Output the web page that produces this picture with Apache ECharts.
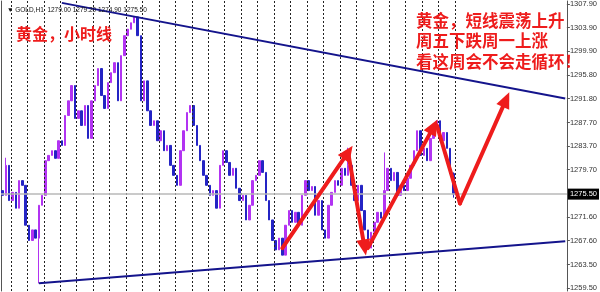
<!DOCTYPE html>
<html><head><meta charset="utf-8">
<script src="https://cdn.jsdelivr.net/npm/echarts@6.0.0/dist/echarts.min.js"></script>
<style>html,body{margin:0;padding:0;background:#fff}#c{width:600px;height:292px}</style>
</head><body><div id="c"></div>
<script>
// ---- data ----
const closes = [
 1275.3,1280.4,1274.4,1275.8,1273.1,1277.8,1277.0,1270.2,1267.6,1269.4,
 1268.0,1273.6,1275.3,1281.2,1282.1,1282.9,1281.6,1284.6,1283.8,1288.9,
 1291.4,1294.0,1288.4,1289.7,1287.2,1290.6,1285.0,1291.4,1294.0,1296.9,
 1292.3,1290.1,1294.5,1296.2,1297.9,1291.4,1299.1,1302.5,1303.6,1304.7,
 1305.7,1302.5,1291.4,1294.8,1289.7,1287.2,1288.0,1284.6,1286.3,1282.9,
 1283.8,1280.4,1278.7,1277.0,1282.9,1286.3,1289.4,1290.6,1287.2,1283.8,
 1281.2,1278.7,1277.0,1275.3,1276.1,1273.1,1280.4,1282.9,1280.9,1278.7,
 1279.9,1276.5,1274.4,1275.3,1271.1,1273.6,1277.8,1278.7,1281.2,1279.2,
 1274.4,1271.1,1267.6,1266.0,1268.0,1265.1,1270.2,1272.7,1270.7,1272.4,
 1270.2,1275.3,1277.8,1276.1,1276.8,1271.9,1274.4,1269.4,1268.0,1273.6,
 1275.8,1277.8,1277.0,1279.9,1278.7,1280.4,1277.0,1274.4,1277.0,1272.7,
 1269.4,1266.3,1269.0,1270.7,1272.4,1271.4,1276.1,1279.9,1277.8,1279.2,
 1275.3,1277.0,1276.1,1278.2,1280.4,1282.9,1286.3,1282.1,1283.3,1281.2,
 1285.0,1287.2,1288.0,1284.6,1286.0,1283.3,1279.0,1275.5
];
const firstOpen = 1276.1;
const wickHighs = {1: 1281.7, 105: 1283.4, 116: 1282.6, 137: 1279.2};
const wickLows = {11: 1260.3, 137: 1274.9};
const totalBars = 172;            // bars + empty shift area on the right
const yTickLabels = [1259.5,1263.5,1267.6,1271.6,1275.5,1279.7,1283.7,1287.7,1291.8,1295.8,1299.9,1303.9,1307.9];
const yMin = 1258.99, yMax = 1308.41;
const lastPrice = 1275.5;
const headerText = '\u25BC GOLD,H1  1279.00 1279.20 1274.90 1275.50';
const leftTitle = '黄金，小时线';
const rightTitle = '黄金，短线震荡上升\n周五下跌周一上涨\n看这周会不会走循环！';
// period separators: bar boundaries (first, step, last)
const sepFirst = 3, sepStep = 5, sepLast = 138;
// trendlines: [barIndex, price]
const upperTrend = [[18, 1308.09], [171, 1291.8]];
const lowerTrend = [[11, 1260.3], [171, 1267.46]];
// arrows: [fromIndex, fromPrice, toIndex, toPrice, hasHead]
const arrows = [
 [85, 1266.3, 105, 1282.6, true],
 [105, 1282.6, 110, 1266.4, true],
 [111, 1266.3, 131, 1287.0, true],
 [132, 1287.2, 139, 1273.9, false],
 [139, 1273.9, 153, 1291.6, true]
];

// ---- build ----
const categories = [];
for (let i = 0; i < totalBars; i++) categories.push('b' + i);
const boundaries = [];
for (let i = 0; i <= totalBars; i++) boundaries.push('e' + i);
const candles = closes.map((c, i) => {
  const o = i === 0 ? firstOpen : closes[i - 1];
  let lo = Math.min(o, c), hi = Math.max(o, c);
  if (wickLows[i] !== undefined) lo = Math.min(lo, wickLows[i]);
  if (wickHighs[i] !== undefined) hi = Math.max(hi, wickHighs[i]);
  return [o, c, lo, hi];
});

const red = '#ee1c1c';
const trendStyle = {color: '#14148c', width: 2, type: 'solid'};
const mlData = [
  {yAxis: lastPrice,
   lineStyle: {color: '#b8b8b8', width: 1.5, type: 'solid'},
   label: {show: true, position: 'end', distance: 1, formatter: lastPrice.toFixed(2),
           backgroundColor: '#000', color: '#fff', padding: [2, 2, 1, 2], fontSize: 7.5,
           fontFamily: 'Liberation Sans'}},
  [{coord: [categories[upperTrend[0][0]], upperTrend[0][1]], symbol: 'none', lineStyle: trendStyle},
   {coord: [categories[upperTrend[1][0]], upperTrend[1][1]], symbol: 'none'}],
  [{coord: [categories[lowerTrend[0][0]], lowerTrend[0][1]], symbol: 'none', lineStyle: trendStyle},
   {coord: [categories[lowerTrend[1][0]], lowerTrend[1][1]], symbol: 'none'}]
];
arrows.forEach(a => {
  mlData.push([
    {coord: [categories[a[0]], a[1]], symbol: 'none', lineStyle: {color: red, width: 4, type: 'solid', cap: 'round'}},
    {coord: [categories[a[2]], a[3]], symbol: a[4] ? 'triangle' : 'none', symbolSize: [14, 16], itemStyle: {color: red}}
  ]);
});
const sepData = [];
for (let k = sepFirst; k <= sepLast; k += sepStep) {
  sepData.push({xAxis: boundaries[k],
                lineStyle: {color: '#222', width: 1, type: [2, 2]}});
}

const chart = echarts.init(document.getElementById('c'), null, {renderer: 'canvas'});
chart.setOption({
  animation: false,
  backgroundColor: '#ffffff',
  title: [
    {text: headerText, left: 2, top: 2, textStyle: {fontSize: 6.5, fontWeight: 'normal', color: '#111', fontFamily: 'Liberation Sans'}},
    {text: leftTitle, left: 11, top: 21, textStyle: {fontSize: 16, fontWeight: 'bold', color: red, fontFamily: 'Noto Sans CJK SC'}},
    {text: rightTitle, left: 411, top: 5, textStyle: {fontSize: 16.5, fontWeight: 'bold', color: red, lineHeight: 20.5, fontFamily: 'Noto Sans CJK SC'}}
  ],
  grid: {left: 1, right: 29, top: 0, bottom: 1},
  xAxis: [{
    type: 'category', data: categories, boundaryGap: true,
    axisLabel: {show: false}, axisTick: {show: false}, axisLine: {show: false}, splitLine: {show: false}
  }, {
    type: 'category', data: boundaries, boundaryGap: false, show: false,
    axisLabel: {show: false}, axisTick: {show: false}, axisLine: {show: false}, splitLine: {show: false}
  }],
  yAxis: [{
    type: 'value', position: 'right', min: yMin, max: yMax, scale: true,
    axisLine: {show: true, lineStyle: {color: '#555', width: 1}},
    axisTick: {show: true, length: 3, lineStyle: {color: '#555'}, customValues: yTickLabels},
    axisLabel: {show: true, margin: 3, fontSize: 7.5, color: '#333', fontFamily: 'Liberation Sans',
                customValues: yTickLabels, formatter: v => v.toFixed(2)},
    splitLine: {show: false}
  }, {
    type: 'value', position: 'left', min: yMin, max: yMax,
    axisLine: {show: true, lineStyle: {color: '#555', width: 1}},
    axisTick: {show: false}, axisLabel: {show: false}, splitLine: {show: false}
  }],
  series: [{
    type: 'line', xAxisIndex: 1, yAxisIndex: 0, data: [], z: 1, silent: true,
    markLine: {silent: true, animation: false, label: {show: false}, symbol: ['none', 'none'], data: sepData}
  }, {
    type: 'candlestick', data: candles, barWidth: 2, z: 3,
    itemStyle: {color: '#b233f2', color0: '#2424c4', borderColor: '#b233f2', borderColor0: '#2424c4', borderWidth: 1},
    markLine: {silent: true, animation: false, symbol: ['none', 'none'], label: {show: false}, data: mlData}
  }]
});
</script></body></html>
